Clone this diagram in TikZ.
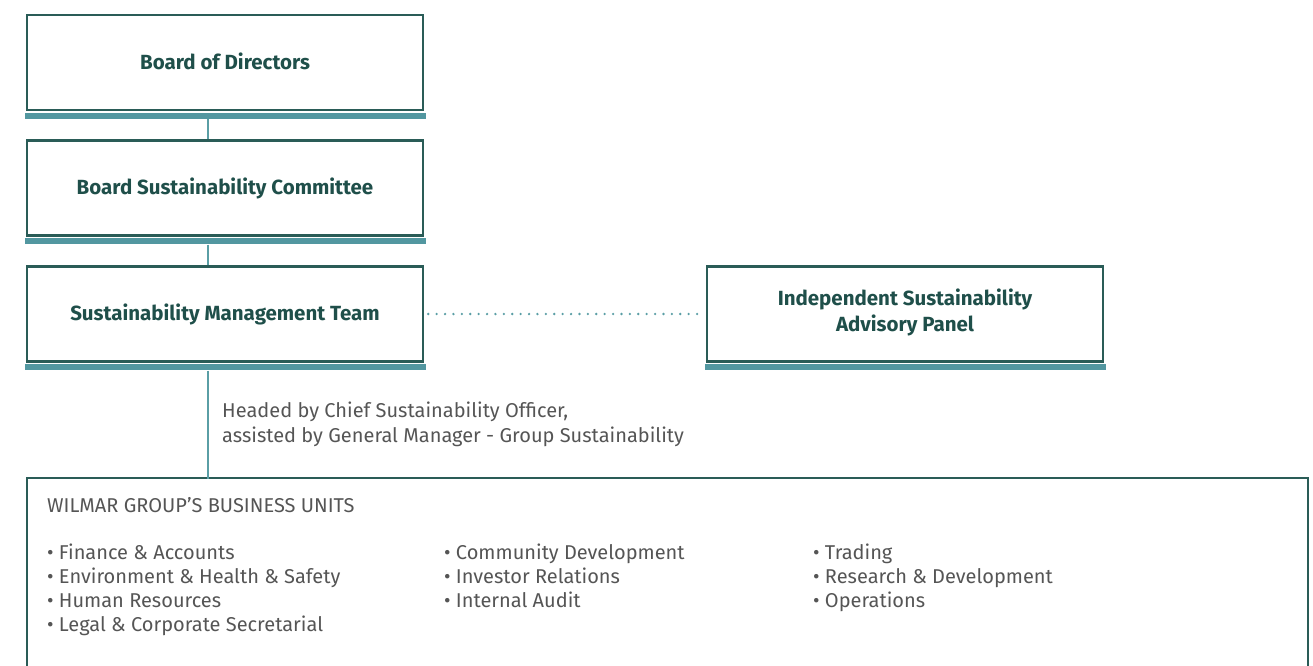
\documentclass[tikz,border=0pt]{standalone}
\usepackage{fontspec}
\setmainfont{Fira Sans}
\definecolor{boxline}{HTML}{2A5C57}
\definecolor{shadowcol}{HTML}{5297A0}
\definecolor{conn}{HTML}{5A9EA5}
\definecolor{titletxt}{HTML}{1F4F4A}
\definecolor{bodytxt}{HTML}{555555}
\tikzset{
  orgbox/.style={draw=boxline, line width=2.5pt, fill=white, minimum width=396pt, minimum height=95pt,
    font=\fontsize{20.5}{25}\selectfont\bfseries, text=titletxt, align=center, inner sep=0pt},
  link/.style={draw=conn, line width=2pt},
  dotlink/.style={draw=conn, line width=2.6pt, dash pattern=on 0pt off 8.4pt, line cap=round},
  body/.style={font=\fontsize{20}{24.5}\selectfont, text=bodytxt, anchor=west, inner sep=0pt, align=left},
  list/.style={body, font=\fontsize{20}{24}\selectfont, anchor=north west},
}
\begin{document}
\begin{tikzpicture}[x=1pt,y=-1pt]
\useasboundingbox (0,0) rectangle (1313,665);
% boxes
\node[orgbox] (bod) at (225,62.5) {\raisebox{2.5pt}{Board of Directors}};
\node[orgbox] (bsc) at (225,188) {\raisebox{1.5pt}{Board Sustainability Committee}};
\node[orgbox] (smt) at (225,314) {\raisebox{1.5pt}{Sustainability Management Team}};
\node[orgbox, text depth=8pt] (isap) at (905,314) {Independent Sustainability\\[1pt]Advisory Panel};
% shadow bars
\foreach \b in {bod,bsc,smt,isap}{
  \fill[shadowcol] ([xshift=-1.25pt,yshift=-1.25pt]\b.south west) rectangle ([xshift=1.25pt,yshift=-7.5pt]\b.south east);
}
% business units box (open at bottom)
\coordinate (bu) at (208,478);
\draw[boxline, line width=2.5pt] (27,670) -- (27,478) -- (1308,478) -- (1308,670);
% connectors
\coordinate (bodb) at (208,118.5);
\coordinate (bscb) at (208,244.5);
\coordinate (smtb) at (208,370.5);
\draw[link] (bodb) -- (bodb |- bsc.north);
\draw[link] (bscb) -- (bscb |- smt.north);
\draw[link] (smtb) -- ([yshift=-1.2pt]bu);
\draw[dotlink] ([xshift=4pt]smt.east) -- ([xshift=-2pt]isap.west);
% texts
\node[body] (head) at (222,424.5) {Headed by Chief Sustainability Officer,\\assisted by General Manager - Group Sustainability};
\node[body] (wg) at (47,505) {WILMAR GROUP’S BUSINESS UNITS};
\node[list] (c1) at (47,543.5) {• Finance \& Accounts\\• Environment \& Health \& Safety\\• Human Resources\\• Legal \& Corporate Secretarial};
\node[list] (c2) at (444,543.5) {• Community Development\\• Investor Relations\\• Internal Audit};
\node[list] (c3) at (813,543.5) {• Trading\\• Research \& Development\\• Operations};
\end{tikzpicture}
\end{document}
